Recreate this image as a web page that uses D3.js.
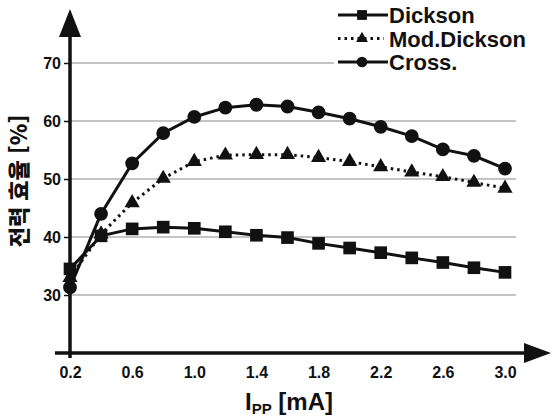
<!DOCTYPE html>
<html lang="ko">
<head>
<meta charset="UTF-8">
<title>전력 효율</title>
<style>
  body { margin: 0; background: #fff; }
  text { font-family: "Liberation Sans", Arial, sans-serif; font-weight: bold; fill: #111; }
</style>
</head>
<body>
<svg width="552" height="418"></svg>
<script src="https://d3js.org/d3.v7.min.js"></script>
<script>
var current = [0.2, 0.4, 0.6, 0.8, 1.0, 1.2, 1.4, 1.6, 1.8, 2.0, 2.2, 2.4, 2.6, 2.8, 3.0];
var dickson = [34.5, 40.2, 41.4, 41.7, 41.5, 40.9, 40.3, 39.9, 38.9, 38.1, 37.3, 36.4, 35.6, 34.7, 33.9];
var modDickson = [33.0, 40.5, 45.9, 50.1, 53.0, 54.1, 54.2, 54.2, 53.7, 53.0, 52.1, 51.2, 50.4, 49.4, 48.4];
var cross = [31.3, 44.0, 52.7, 57.9, 60.7, 62.3, 62.8, 62.5, 61.5, 60.4, 59.0, 57.4, 55.1, 54.0, 51.8];
var xTicks = [0.2, 0.6, 1.0, 1.4, 1.8, 2.2, 2.6, 3.0];
var yTicks = [30, 40, 50, 60, 70];
var seriesNames = ["Dickson", "Mod.Dickson", "Cross."];

var svg = d3.select("svg");

var x = d3.scaleLinear().domain([0.2, 3.0]).range([70, 505]);
var y = d3.scaleLinear().domain([20, 70]).range([353, 63]);

// grid
svg.append("g").selectAll("line").data(yTicks).join("line")
  .attr("x1", 70).attr("x2", 516)
  .attr("y1", function(d) { return y(d); }).attr("y2", function(d) { return y(d); })
  .attr("stroke", "#8a8a8a").attr("stroke-width", 1.2);

// y axis
var yAxis = svg.append("g").attr("transform", "translate(70,0)")
  .call(d3.axisLeft(y).tickValues(yTicks).tickSize(6).tickPadding(3).tickFormat(d3.format("d")));
yAxis.select(".domain").remove();
yAxis.attr("font-family", null).attr("font-size", null);
yAxis.selectAll("line").attr("stroke", "#111").attr("stroke-width", 1.5);
yAxis.selectAll("text").style("font-size", "16px");

// x axis
var xAxis = svg.append("g").attr("transform", "translate(0,353)")
  .call(d3.axisBottom(x).tickValues(xTicks).tickSize(0).tickPadding(14).tickFormat(d3.format(".1f")));
xAxis.select(".domain").remove();
xAxis.attr("font-family", null).attr("font-size", null);
xAxis.selectAll("text").style("font-size", "16px");

// axis lines with arrows
svg.append("line").attr("x1", 70).attr("x2", 70).attr("y1", 358).attr("y2", 30)
  .attr("stroke", "#111").attr("stroke-width", 3.5);
svg.append("path").attr("d", "M70,9 L59,37 L81,37 Z").attr("fill", "#111");
svg.append("line").attr("x1", 55).attr("x2", 530).attr("y1", 353).attr("y2", 353)
  .attr("stroke", "#111").attr("stroke-width", 3.5);
svg.append("path").attr("d", "M551,353 L524,343 L524,363 Z").attr("fill", "#111");

var line = d3.line().x(function(d) { return x(d[0]); }).y(function(d) { return y(d[1]); });

var series = [
  { name: seriesNames[0], values: dickson, dash: null, marker: d3.symbolSquare, size: 160 },
  { name: seriesNames[1], values: modDickson, dash: "2.5,4", marker: d3.symbolTriangle, size: 100 },
  { name: seriesNames[2], values: cross, dash: null, marker: d3.symbolCircle, size: 150 }
];

series.forEach(function(s) {
  var pts = current.map(function(c, i) { return [c, s.values[i]]; });
  svg.append("path").datum(pts).attr("d", line)
    .attr("fill", "none").attr("stroke", "#111").attr("stroke-width", 3)
    .attr("stroke-dasharray", s.dash);
  svg.append("g").selectAll("path").data(pts).join("path")
    .attr("transform", function(d) { return "translate(" + x(d[0]) + "," + y(d[1]) + ")"; })
    .attr("d", d3.symbol().type(s.marker).size(s.size))
    .attr("fill", "#111");
});

// legend
var legend = svg.append("g");
legend.append("rect").attr("x", 334).attr("y", 0).attr("width", 218).attr("height", 74).attr("fill", "#fff");
series.forEach(function(s, i) {
  var cy = 15 + i * 23.5;
  legend.append("line").attr("x1", 338).attr("x2", s.dash ? 384 : 388).attr("y1", cy).attr("y2", cy)
    .attr("stroke", "#111").attr("stroke-width", 3).attr("stroke-dasharray", s.dash);
  legend.append("path").attr("transform", "translate(362," + cy + ")")
    .attr("d", d3.symbol().type(s.marker).size(s.size * 0.6)).attr("fill", "#111");
  legend.append("text").attr("x", 389).attr("y", cy + 8).style("font-size", "22px").text(s.name);
});

// axis titles
var xt = svg.append("text").attr("x", 289).attr("y", 410).attr("text-anchor", "middle").style("font-size", "24px");
xt.append("tspan").text("I");
xt.append("tspan").attr("dy", 4).style("font-size", "15px").text("PP");
xt.append("tspan").attr("dy", -4).text(" [mA]");

svg.append("text").attr("transform", "translate(27,181) rotate(-90)").attr("text-anchor", "middle")
  .style("font-size", "22px").style("font-family", "Noto Sans CJK KR, sans-serif").style("font-weight", "900")
  .text("전력 효율 [%]");
</script>
</body>
</html>
